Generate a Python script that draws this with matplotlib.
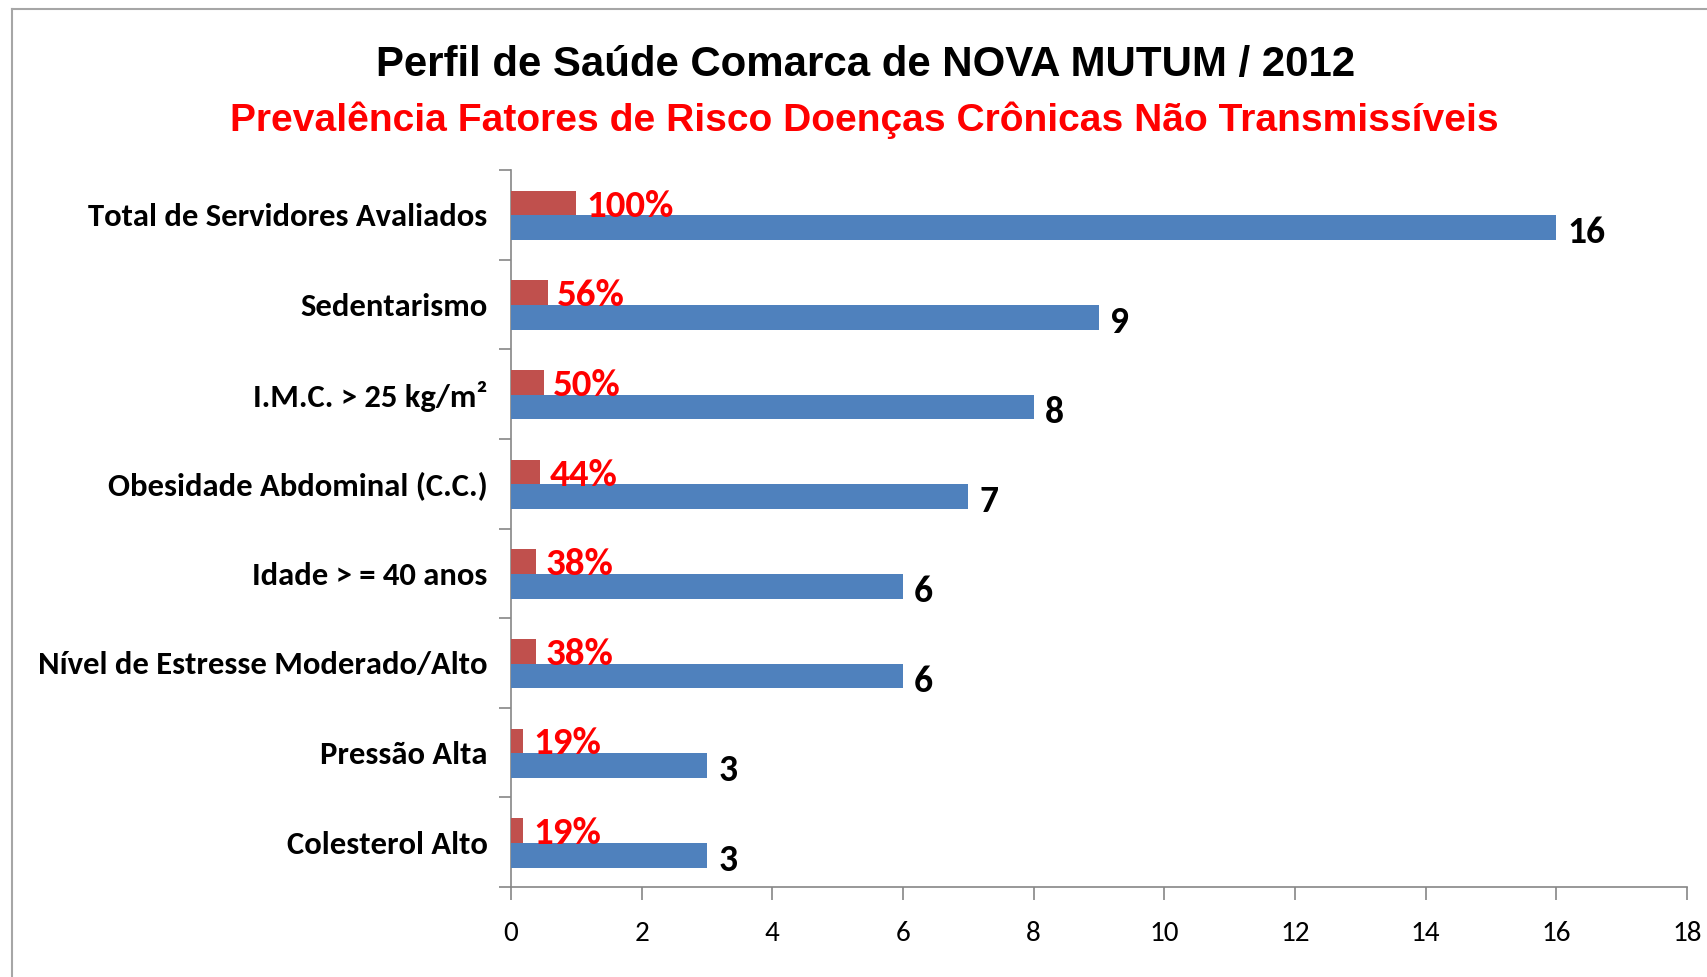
import matplotlib
matplotlib.use("Agg")
import matplotlib.pyplot as plt
from matplotlib.lines import Line2D
from matplotlib import font_manager as fm

# ---- data ----
categories = ["Total de Servidores Avaliados", "Sedentarismo", "I.M.C. > 25 kg/m²",
              "Obesidade Abdominal (C.C.)", "Idade > = 40 anos",
              "Nível de Estresse Moderado/Alto", "Pressão Alta", "Colesterol Alto"]
counts = [16, 9, 8, 7, 6, 6, 3, 3]
prevalence = [1.00, 0.56, 0.50, 0.44, 0.38, 0.38, 0.19, 0.19]
pct_labels = ["100%", "56%", "50%", "44%", "38%", "38%", "19%", "19%"]
x_ticks = [0, 2, 4, 6, 8, 10, 12, 14, 16, 18]
title = "Perfil de Saúde Comarca de NOVA MUTUM / 2012"
subtitle = "Prevalência Fatores de Risco Doenças Crônicas Não Transmissíveis"

BLUE = "#4F81BD"
RED = "#C0504D"
GRAY = "#868686"

def pick(fams):
    out = []
    for f in fams:
        try:
            fm.findfont(fm.FontProperties(family=f), fallback_to_default=False)
            out.append(f)
        except Exception:
            pass
    return out + ["DejaVu Sans"]

LBL = pick(["Carlito", "Lato"])
TTL = pick(["Liberation Sans Narrow", "Liberation Sans"])

W, H = 1708, 977
fig = plt.figure(figsize=(W / 100, H / 100), dpi=100)
fig.patch.set_facecolor("white")

left, right, top, bottom = 511, 1687, 170, 887
ax = fig.add_axes([left / W, 1 - bottom / H, (right - left) / W, (bottom - top) / H])

n = len(categories)
ypos = list(range(n))
h = 0.275
red_y = [y - 0.13 for y in ypos]
blue_y = [y + 0.145 for y in ypos]
ax.barh(red_y, prevalence, height=h, color=RED, zorder=3)
ax.barh(blue_y, counts, height=h, color=BLUE, zorder=3)

ax.set_xlim(0, 18)
ax.set_ylim(n - 0.5, -0.5)

for y, v, s in zip(red_y, prevalence, pct_labels):
    ax.annotate(s, (v, y), xytext=(7, 0), textcoords="offset points",
                ha="left", va="center_baseline", color="#FF0000",
                fontsize=28, fontweight="bold", family=LBL, zorder=4)
for y, v in zip(blue_y, counts):
    ax.annotate(str(v), (v, y), xytext=(8, -1.5), textcoords="offset points",
                ha="left", va="center_baseline", color="black",
                fontsize=27, fontweight="bold", family=LBL, zorder=4)

# axes styling
for s in ["top", "right"]:
    ax.spines[s].set_visible(False)
for s in ["left", "bottom"]:
    ax.spines[s].set_color(GRAY)
    ax.spines[s].set_linewidth(1.2)

ax.set_xticks(x_ticks)
ax.set_xticklabels([str(t) for t in x_ticks], family=LBL, fontsize=21)
ax.tick_params(axis="x", direction="out", length=9, color=GRAY, width=1.2, pad=15.5)

ax.set_yticks([i - 0.5 for i in range(n + 1)])
ax.set_yticklabels([])
ax.tick_params(axis="y", which="major", direction="out", length=9, color=GRAY, width=1.2)
ax.set_yticks(ypos, minor=True)
ax.set_yticklabels(categories, minor=True, family=LBL, fontsize=23.5, fontweight="bold")
ax.tick_params(axis="y", which="minor", length=0, pad=17)

# titles
t1 = fig.text(866 / W, 1 - 76.5 / H, title, ha="center", va="baseline",
              fontsize=31, fontweight="bold", family=TTL, color="black")
t2 = fig.text(864 / W, 1 - 131 / H, subtitle, ha="center", va="baseline",
              fontsize=31, fontweight="bold", family=TTL, color="#FF0000")
r = fig.canvas.get_renderer()
for t, target in [(t1, 980), (t2, 1265)]:
    w = t.get_window_extent(r).width
    t.set_fontsize(t.get_fontsize() * target / w)

# outer frame (top and left)
fig.add_artist(Line2D([12 / W, 1.0], [1 - 9 / H, 1 - 9 / H], transform=fig.transFigure,
                      color="#A6A6A6", lw=1.5))
fig.add_artist(Line2D([12 / W, 12 / W], [0, 1 - 9 / H], transform=fig.transFigure,
                      color="#A6A6A6", lw=1.5))

fig.savefig("out.png", dpi=100, facecolor="white")
